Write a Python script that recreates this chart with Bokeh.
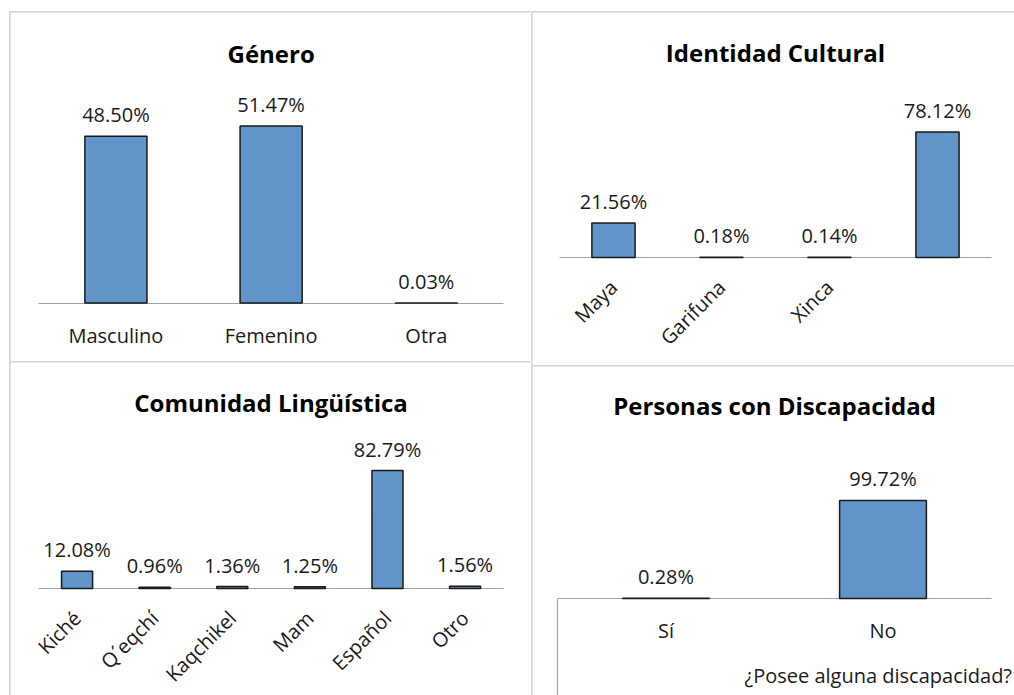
import math
from bokeh.plotting import figure
from bokeh.models import (ColumnDataSource, LabelSet, Label, Span, LinearAxis,
                          FixedTicker, Range1d)
from bokeh.layouts import row, column
from bokeh.core.properties import value
from bokeh.embed import file_html
from bokeh.resources import INLINE

# ---------------- data ----------------
gen_title = "Género"
gen_cats = ["Masculino", "Femenino", "Otra"]
gen_vals = [48.50, 51.47, 0.03]

id_title = "Identidad Cultural"
id_cats = ["Maya", "Garifuna", "Xinca", ""]
id_vals = [21.56, 0.18, 0.14, 78.12]

ling_title = "Comunidad Lingüística"
ling_cats = ["Kiché", "Q´eqchí", "Kaqchikel", "Mam", "Español", "Otro"]
ling_vals = [12.08, 0.96, 1.36, 1.25, 82.79, 1.56]

disc_title = "Personas con Discapacidad"
disc_cats = ["Sí", "No"]
disc_vals = [0.28, 99.72]
disc_axis_title = "¿Posee alguna discapacidad?"

# ---------------- styles ----------------
FONT = "Open Sans"
BAR_FILL = "#6195C9"
BAR_LINE = "#1a1a1a"
AXIS_COLOR = "#a3a3a3"
BORDER_COLOR = "#a8a8a8"
TEXT_COLOR = "#1a1a1a"


def panel(title, cats, vals, width, height, mb_left, mb_right, mb_top,
          x_rng, y_rng, title_y, rotate=False):
    n = len(cats)
    xs = [i + 0.5 for i in range(n)]
    src = ColumnDataSource(dict(x=xs, top=vals,
                                txt=[f"{v:.2f}%" for v in vals]))
    p = figure(width=width, height=height, output_backend="svg",
               toolbar_location=None, x_axis_location=None,
               y_axis_location=None, title=None,
               x_range=Range1d(*x_rng), y_range=Range1d(*y_rng),
               min_border_left=mb_left, min_border_right=mb_right,
               min_border_top=mb_top, min_border_bottom=0)
    p.outline_line_color = None
    p.background_fill_color = "white"
    p.border_fill_color = "white"
    p.grid.visible = False
    p.xgrid.visible = False
    p.ygrid.visible = False

    p.vbar(x="x", top="top", bottom=0, width=0.4, source=src,
           fill_color=BAR_FILL, line_color=BAR_LINE, line_width=1.5)

    ax = LinearAxis(fixed_location=0, bounds=(0, n),
                    ticker=FixedTicker(ticks=xs, minor_ticks=[]))
    ax.level = "underlay"
    ax.major_label_overrides = {x: c for x, c in zip(xs, cats)}
    ax.axis_line_color = AXIS_COLOR
    ax.axis_line_width = 1.2
    ax.major_tick_line_color = None
    ax.minor_tick_line_color = None
    ax.major_tick_out = 0
    ax.major_tick_in = 0
    ax.major_label_text_font = FONT
    ax.major_label_text_font_size = "20px"
    ax.major_label_text_color = TEXT_COLOR
    if rotate:
        ax.major_label_orientation = math.pi / 4
        ax.major_label_standoff = 26
    else:
        ax.major_label_standoff = 19
    p.add_layout(ax, "below")

    p.add_layout(LabelSet(x="x", y="top", text="txt", source=src,
                          text_align="center", text_baseline="alphabetic",
                          y_offset=14, text_font=value(FONT),
                          text_font_size=value("20px"),
                          text_color=TEXT_COLOR))

    p.add_layout(Label(x=n / 2, y=title_y, text=title, text_align="center",
                       text_baseline="middle", text_font=FONT,
                       text_font_style="bold", text_font_size="24px",
                       text_color="black"))

    # panel borders (top and left edge)
    p.add_layout(Span(location=y_rng[1], dimension="width",
                      line_color=BORDER_COLOR, line_width=1.5))
    p.add_layout(Span(location=x_rng[0], dimension="height",
                      line_color=BORDER_COLOR, line_width=1.5))
    return p


pA = panel(gen_title, gen_cats, gen_vals, 531, 361, 9, 1, 11,
           (-0.1856, 3.171), (-17.0, 84.74), 72.5)
pC = panel(ling_title, ling_cats, ling_vals, 531, 334, 9, 1, 0,
           (-0.371, 6.343), (-75.09, 159.3), 130.7, rotate=True)
pB = panel(id_title, id_cats, id_vals, 483, 365, 0, 0, 11,
           (-0.259, 4.213), (-67.29, 153.27), 127.5, rotate=True)
pD = panel(disc_title, disc_cats, disc_vals, 483, 330, 0, 0, 0,
           (-0.1198, 2.106), (-98.68, 237.0), 196.3)

# left rule of the discapacidad plot area, below the baseline
yax = LinearAxis(fixed_location=0, bounds=(-98.68, 0),
                 ticker=FixedTicker(ticks=[], minor_ticks=[]))
yax.level = "underlay"
yax.axis_line_color = AXIS_COLOR
yax.axis_line_width = 1.2
yax.major_label_text_font_size = "0px"
pD.add_layout(yax, "left")

pD.add_layout(Label(x=0.862, y=-78.5, text=disc_axis_title,
                    text_align="left", text_baseline="middle",
                    text_font=FONT, text_font_size="20px",
                    text_color=TEXT_COLOR))

layout = row(column(pA, pC), column(pB, pD))
open("out.html", "w").write(file_html(layout, INLINE))
